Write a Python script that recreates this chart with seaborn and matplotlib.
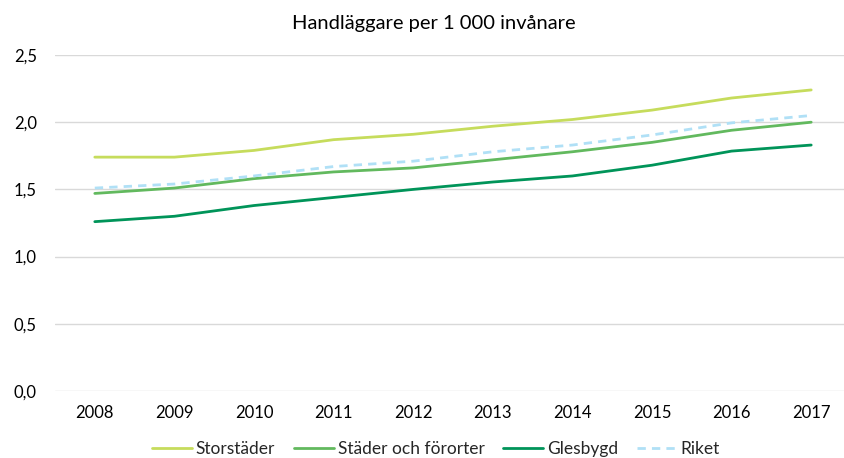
import matplotlib
matplotlib.use("Agg")
import matplotlib.pyplot as plt
import seaborn as sns
import pandas as pd
from matplotlib.ticker import FuncFormatter, MultipleLocator

years = [2008, 2009, 2010, 2011, 2012, 2013, 2014, 2015, 2016, 2017]
storstader = [1.74, 1.74, 1.79, 1.87, 1.91, 1.97, 2.02, 2.09, 2.18, 2.24]
stader_forort = [1.47, 1.51, 1.58, 1.63, 1.66, 1.72, 1.78, 1.85, 1.94, 2.00]
glesbygd = [1.26, 1.30, 1.38, 1.44, 1.50, 1.555, 1.60, 1.68, 1.785, 1.83]
riket = [1.51, 1.54, 1.60, 1.67, 1.71, 1.78, 1.83, 1.905, 1.995, 2.05]

series_names = ["Storstäder", "Städer och förorter", "Glesbygd", "Riket"]
series_values = [storstader, stader_forort, glesbygd, riket]
colors = ["#c6dc5c", "#62b95e", "#009459", "#b0e0f6"]
title = "Handläggare per 1 000 invånare"

rows = []
for name, vals in zip(series_names, series_values):
    for y, v in zip(years, vals):
        rows.append({"År": y, "Värde": v, "Serie": name})
df = pd.DataFrame(rows)

sns.set_theme(style="white")
plt.rcParams['font.family'] = ['Lato', 'DejaVu Sans']

fig = plt.figure(figsize=(8.44, 4.58), dpi=100)
ax = fig.add_axes([55 / 844, 1 - 391 / 458, (851 - 55) / 844, (391 - 55) / 458])

dashes = {"Storstäder": "", "Städer och förorter": "", "Glesbygd": "", "Riket": (3, 2.2)}
sns.lineplot(data=df, x="År", y="Värde", hue="Serie", style="Serie",
             palette=dict(zip(series_names, colors)), dashes=dashes,
             hue_order=series_names, style_order=series_names,
             linewidth=2.0, ax=ax, legend=True)

ax.set_xlim(2007.5, 2017.5)
ax.set_ylim(0, 2.5)
ax.yaxis.set_major_locator(MultipleLocator(0.5))
ax.yaxis.set_major_formatter(FuncFormatter(lambda v, p: f"{v:.1f}".replace(".", ",")))
ax.set_xticks(years)
ax.set_xticklabels([str(y) for y in years])
ax.grid(axis="y", color="#d9d9d9", linewidth=1.0)
ax.grid(axis="x", visible=False)
ax.set_axisbelow(True)
for s in ax.spines.values():
    s.set_visible(False)
ax.set_xlabel("")
ax.set_ylabel("")
ax.tick_params(axis="both", length=0, labelsize=12, colors="#000000")
ax.tick_params(axis="x", pad=10)
ax.tick_params(axis="y", pad=13)

fig.text(434 / 844, 1 - 24 / 458, title, ha="center", va="center", fontsize=14.5, color="#000000")

handles, labels = ax.get_legend_handles_labels()
ax.legend_.remove()
fig.legend(handles, labels, loc="center", bbox_to_anchor=(436 / 844, 1 - 449 / 458), ncol=4,
           frameon=False, fontsize=12.5, handlelength=2.3, handletextpad=0.2, columnspacing=1.1,
           borderaxespad=0, borderpad=0)

fig.savefig("out.png", dpi=100)
